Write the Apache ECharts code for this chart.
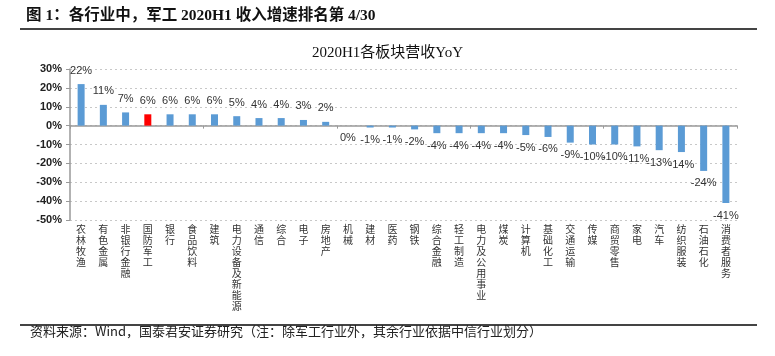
<!DOCTYPE html>
<html>
<head>
<meta charset="utf-8">
<script src="https://cdn.jsdelivr.net/npm/echarts@6/dist/echarts.min.js"></script>
<style>
html,body{margin:0;padding:0;background:#fff;}
#c{width:775px;height:356px;}
</style>
</head>
<body>
<div id="c"></div>
<script>
const categories = ['农林牧渔','有色金属','非银行金融','国防军工','银行','食品饮料','建筑','电力设备及新能源','通信','综合','电子','房地产','机械','建材','医药','钢铁','综合金融','轻工制造','电力及公用事业','煤炭','计算机','基础化工','交通运输','传媒','商贸零售','家电','汽车','纺织服装','石油石化','消费者服务'];
const yoyValues = [22,11,7,6,6,6,6,5,4,4,3,2,0,-1,-1,-2,-4,-4,-4,-4,-5,-6,-9,-10,-10,-11,-13,-14,-24,-41];
const highlightCategory = '国防军工';
const yTicks = {min:-50, max:30, interval:10};
const titleText = '2020H1各板块营收YoY';
const headerText = '图 1：各行业中，军工 2020H1 收入增速排名第 4/30';
const sourceText = '资料来源：Wind，国泰君安证券研究（注：除军工行业外，其余行业依据中信行业划分）';

const blue = '#5b9bd5', red = '#ff0000';
const seriesData = yoyValues.map((v,i)=>({
  value: v,
  itemStyle: {color: categories[i]===highlightCategory ? red : blue},
  label: v>0 ? {position:'top', distance:8} : {position:'bottom', distance:7}
}));

const chart = echarts.init(document.getElementById('c'), null, {renderer:'canvas'});
chart.setOption({
  animation:false,
  title:{text:titleText, left:'center', top:41, textStyle:{fontFamily:'"Liberation Serif","Noto Sans CJK SC",serif', fontWeight:'normal', fontSize:15, color:'#111'}},
  grid:{left:70, right:38, top:69, bottom:136, containLabel:false},
  xAxis:[{
    type:'category', data:categories,
    axisLine:{onZero:true, lineStyle:{color:'#999', width:1.5}},
    axisTick:{show:true, length:3, lineStyle:{color:'#999'}},
    axisLabel:{show:false}
  },{
    type:'category', data:categories, position:'bottom', offset:0,
    axisLine:{show:false}, axisTick:{show:false},
    axisLabel:{interval:0, margin:4, fontSize:10, lineHeight:11, color:'#333', fontFamily:'"Noto Sans CJK SC",sans-serif',
      formatter:(s)=>s.split('').join('\n')}
  }],
  yAxis:{
    type:'value', min:yTicks.min, max:yTicks.max, interval:yTicks.interval,
    axisLine:{show:true, lineStyle:{color:'#999', width:1.5}},
    axisTick:{show:true, length:4, lineStyle:{color:'#999'}},
    axisLabel:{formatter:'{value}%', fontSize:11, color:'#222', fontFamily:'"Liberation Sans",Arial,sans-serif', fontWeight:'bold', margin:8},
    splitLine:{show:true, lineStyle:{color:'#c8c8c8', type:[2,3]}}
  },
  series:[{
    type:'bar', xAxisIndex:0, data:seriesData, barWidth:7,
    label:{show:true, formatter:'{c}%', fontSize:11, color:'#333', fontFamily:'"Liberation Sans",Arial,sans-serif'}
  }],
  graphic:[
    {type:'text', left:26, top:8, style:{text:headerText, font:'bold 15.5px "Liberation Serif","Noto Sans CJK SC",serif', fill:'#111'}},
    {type:'line', shape:{x1:20,y1:29,x2:757,y2:29}, style:{stroke:'#444', lineWidth:2}},
    {type:'line', shape:{x1:20,y1:325,x2:757,y2:325}, style:{stroke:'#444', lineWidth:2}},
    {type:'text', left:30, top:325, style:{text:sourceText, font:'13px "Noto Sans CJK SC",sans-serif', fill:'#222'}}
  ]
});
</script>
</body>
</html>
